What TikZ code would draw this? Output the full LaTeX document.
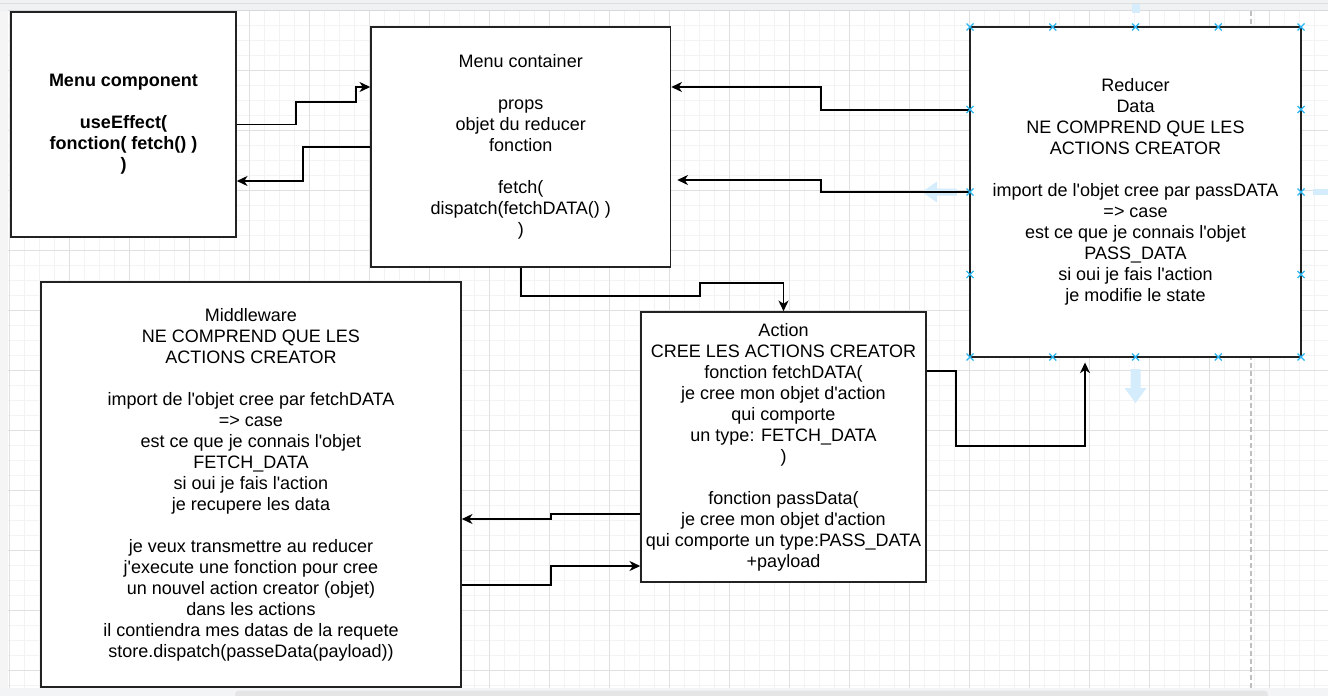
\documentclass[tikz,border=0pt]{standalone}
\usepackage{fontspec}
\usepackage{tikz}
\usetikzlibrary{arrows.meta}
\newfontfamily\drawfont{Liberation Sans}

\definecolor{gridminor}{RGB}{243,243,243}
\definecolor{gridmajor}{RGB}{224,224,224}
\definecolor{handleblue}{RGB}{41,182,242}
\definecolor{hoverblue}{RGB}{212,236,252}
\definecolor{panelgrey}{RGB}{240,241,242}

\tikzset{
  box/.style={draw={rgb,255:red,34;green,34;blue,34}, line width=1.2pt, fill=white, align=center, inner sep=0pt,
    font=\drawfont\fontsize{13.5}{15.75}\selectfont},
  link/.style={draw=black, line width=1.15pt, -{Stealth[length=8pt,width=7.5pt,inset=2.4pt]}},
  handle/.style={draw=handleblue, line width=0.9pt},
}

\begin{document}
\begin{tikzpicture}[x=0.75pt,y=0.75pt,yscale=-1,xscale=1]
\useasboundingbox (0,0) rectangle (1328,696);

% Canvas and grid
\fill[white] (0,0) rectangle (1328,696);
\foreach \gx in {9.3,24.3,...,1328} {\draw[gridminor, line width=0.75pt] (\gx,11) -- (\gx,688);}
\foreach \gy in {10.3,25.3,...,688} {\draw[gridminor, line width=0.75pt] (8,\gy) -- (1328,\gy);}
\foreach \gx in {9.3,69.3,...,1328} {\draw[gridmajor, line width=0.75pt] (\gx,11) -- (\gx,688);}
\foreach \gy in {10.3,70.3,...,688} {\draw[gridmajor, line width=0.75pt] (8,\gy) -- (1328,\gy);}
%page break
\draw[gray!50, line width=0.9pt, dash pattern=on 4pt off 2pt] (1251,11) -- (1251,688);

% Window bands
\fill[panelgrey] (0,0) rectangle (1328,10.5);
\draw[gray!25, line width=0.75pt] (0,3) -- (1328,3);
\draw[gray!30, line width=0.75pt] (8,10.5) -- (1328,10.5);
\fill[panelgrey!70] (0,10.5) rectangle (8,688);
\fill[panelgrey!80] (0,688) rectangle (1328,696);
\fill[gray!20, rounded corners=3pt] (235,690.5) rectangle (1268,699);

% Hover arrows
\fill[hoverblue] (1131.5,4) rectangle (1139.5,12.5);
\fill[hoverblue] (1313,189) rectangle (1328,195);
\fill[hoverblue] (922,192) -- (937,181.5) -- (937,188.5) -- (957,188.5) -- (957,195.5) -- (937,195.5) -- (937,202.5) -- cycle;
\fill[hoverblue] (1135.5,403) -- (1124.5,388) -- (1130.5,388) -- (1130.5,369) -- (1140.5,369) -- (1140.5,388) -- (1146.5,388) -- cycle;

% Boxes
\node[box, minimum width=168.75pt, minimum height=168.75pt] (menucomp) at (123.5,124.5)
  {\bfseries Menu component\\[15.75pt] \bfseries useEffect(\\ \bfseries fonction( fetch() )\\ \bfseries )};
\node[box, minimum width=224.6pt, minimum height=180pt] (menucont) at (520.75,147)
  {Menu container\\[15.75pt] props\\ objet du reducer\\ fonction\\[15.75pt] fetch(\\ dispatch(fetchDATA() )\\ )};
\node[box, minimum width=248.25pt, minimum height=247.5pt] (reducer) at (1135.5,192)
  {Reducer\\ Data\\ NE COMPREND QUE LES\\ ACTIONS CREATOR\\[15.75pt] import de l'objet cree par passDATA\\ => case\\ est ce que je connais l'objet\\ PASS\_DATA\\ si oui je fais l'action\\ je modifie le state};
\node[box, minimum width=315pt, minimum height=303.75pt] (middleware) at (251,484.5)
  {Middleware\\ NE COMPREND QUE LES\\ ACTIONS CREATOR\\[15.75pt] import de l'objet cree par fetchDATA\\ => case\\ est ce que je connais l'objet\\ FETCH\_DATA\\ si oui je fais l'action\\ je recupere les data\\[15.75pt] je veux transmettre au reducer\\ j'execute une fonction pour cree\\ un nouvel action creator (objet)\\ dans les actions\\ il contiendra mes datas de la requete\\ store.dispatch(passeData(payload))};
\node[box, minimum width=213.75pt, minimum height=202.5pt] (action) at (783.5,447)
  {Action\\ CREE LES ACTIONS CREATOR\\ fonction fetchDATA(\\ je cree mon objet d'action\\ qui comporte\\ un type: FETCH\_DATA\\ )\\[15.75pt] fonction passData(\\ je cree mon objet d'action\\ qui comporte un type:PASS\_DATA\\ +payload};

% Connectors
\draw[link] (menucomp.east) -- (296,124.5) -- (296,102) -- (356,102) -- (356,87) -- (menucont.west |- 0,87);
\draw[link] (menucont.west) -- (303,147) -- (303,181) -- (menucomp.east |- 0,181);
\draw[link] (reducer.west |- 0,110) -- (821,110) -- (821,87) -- (menucont.east |- 0,87);
\draw[link, shorten >=4.5pt] (reducer.west) -- (821,192) -- (821,180) -- (menucont.east |- 0,180);
\draw[link] (menucont.south) -- (menucont.south |- 0,296) -- (700,296) -- (700,283) -- (action.north |- 0,283) -- (action.north);
\draw[link, shorten >=3.5pt] (action.east |- 0,371) -- (956,371) -- (956,446) -- (1085,446) -- (reducer.south -| 1085,0);
\draw[link] (action.west |- 0,514) -- (551,514) -- (551,519) -- (middleware.east |- 0,519);
\draw[link] (middleware.east |- 0,585) -- (551,585) -- (551,566) -- (action.west |- 0,566);

% Selection handles
\foreach \hx in {970,1052.75,1135.5,1218.25,1301} {
  \draw[handle] (\hx,27) +(-3.5,-3.5) -- +(3.5,3.5) +(-3.5,3.5) -- +(3.5,-3.5);
  \draw[handle] (\hx,357) +(-3.5,-3.5) -- +(3.5,3.5) +(-3.5,3.5) -- +(3.5,-3.5);
}
\foreach \hy in {109.5,192,274.5} {
  \draw[handle] (970,\hy) +(-3.5,-3.5) -- +(3.5,3.5) +(-3.5,3.5) -- +(3.5,-3.5);
  \draw[handle] (1301,\hy) +(-3.5,-3.5) -- +(3.5,3.5) +(-3.5,3.5) -- +(3.5,-3.5);
}

\end{tikzpicture}
\end{document}
